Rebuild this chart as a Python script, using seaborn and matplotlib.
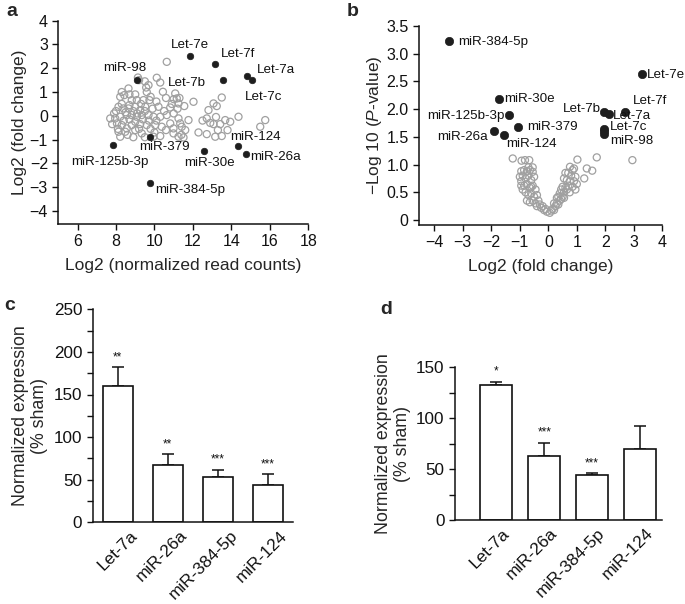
import matplotlib
matplotlib.use('Agg')
import matplotlib.pyplot as plt
import matplotlib.transforms as mtransforms
from matplotlib.ticker import MultipleLocator
import seaborn as sns
import pandas as pd

sns.set_theme(style='ticks')
plt.rcParams['font.family'] = ['Liberation Sans', 'DejaVu Sans']
plt.rcParams['mathtext.fontset'] = 'custom'
plt.rcParams['mathtext.rm'] = 'Liberation Sans'
plt.rcParams['mathtext.it'] = 'Liberation Sans:italic'

# ---------------- data ----------------
# panel a: labelled miRNAs (x = log2 normalized read counts, y = log2 fold change)
a_names = ['Let-7e', 'Let-7f', 'miR-98', 'Let-7b', 'Let-7a', 'Let-7c',
           'miR-379', 'miR-125b-3p', 'miR-30e', 'miR-124', 'miR-26a', 'miR-384-5p']
a_x = [11.85, 13.17, 9.09, 13.55, 14.82, 15.08, 9.79, 7.86, 12.60, 14.35, 14.77, 9.75]
a_y = [2.52, 2.18, 1.50, 1.50, 1.67, 1.50, -0.90, -1.22, -1.48, -1.27, -1.60, -2.84]
a_lab_x = [11.87, 13.43, 8.47, 11.71, 15.31, 14.70, 9.23, 5.66, 11.52, 13.95, 15.00, 10.06]
a_lab_y = [2.97, 2.62, 2.03, 1.40, 1.92, 0.79, -1.30, -1.96, -2.00, -0.88, -1.75, -3.12]
a_lab_ha = ['center', 'left', 'center', 'center', 'left', 'left',
            'left', 'left', 'left', 'left', 'left', 'left']

# panel a: other miRNAs (grey open circles)
a_grey_x = [10.64, 9.14, 10.12, 9.69, 9.57, 8.65, 10.44, 11.08, 8.22, 8.43,
            8.82, 9.08, 9.43, 9.74, 11.16, 11.25, 11.55, 12.03, 10.21, 10.82,
            8.13, 8.39, 8.65, 9.00, 9.26, 9.52, 13.50, 13.07, 13.24, 12.81,
            7.70, 7.96, 8.22, 8.56, 8.82, 9.08, 9.34, 9.69, 9.95, 10.30,
            10.64, 11.25, 11.77, 12.72, 13.07, 13.42, 13.68, 13.94, 14.37, 8.05,
            8.30, 8.56, 8.82, 9.26, 9.60, 10.04, 10.38, 10.82, 10.99, 11.34,
            11.42, 8.22, 8.13, 8.48, 9.00, 9.34, 9.95, 10.30, 10.99, 11.25,
            11.51, 12.29, 12.72, 13.16, 13.50, 15.50, 15.76,
            8.00, 8.30, 8.50, 8.70, 8.90, 9.10, 9.30, 9.50, 9.70, 9.90,
            10.10, 10.50, 8.40, 8.70, 9.00, 9.40, 9.80, 10.10, 10.60, 8.60,
            8.90, 9.20, 9.50, 10.00, 8.30, 9.00, 9.60, 10.90, 11.20, 11.00,
            11.60, 11.40, 13.20, 12.90, 13.80, 13.30, 12.50, 9.20, 9.50, 11.00,
            11.30, 8.70, 7.90, 10.30, 9.80, 10.60, 8.10, 7.80]
a_grey_y = [2.27, 1.61, 1.60, 1.29, 1.19, 1.15, 1.01, 0.94, 0.80, 0.87,
            0.66, 0.66, 0.66, 0.66, 0.73, 0.52, 0.41, 0.59, 0.38, 0.35,
            0.38, 0.31, 0.31, 0.38, 0.24, 0.38, 0.77, 0.52, 0.41, 0.24,
            -0.11, -0.11, -0.04, 0.03, 0.03, -0.04, 0.03, 0.03, -0.04, -0.04,
            0.03, -0.11, -0.18, -0.11, -0.35, -0.35, -0.18, -0.25, -0.04, -0.32,
            -0.39, -0.53, -0.39, -0.35, -0.39, -0.39, -0.46, -0.32, -0.53, -0.32,
            -0.46, -0.88, -0.67, -0.67, -0.60, -0.74, -0.88, -0.85, -0.74, -0.88,
            -0.91, -0.70, -0.77, -0.88, -0.85, -0.46, -0.18,
            0.20, 0.50, 0.15, 0.45, 0.20, 0.10, 0.50, 0.20, -0.20, 0.30,
            0.60, 0.20, -0.20, -0.15, -0.25, -0.15, -0.55, -0.20, -0.60, -0.80,
            -0.90, -0.55, -0.90, -0.70, 1.00, 0.90, 1.00, 0.50, 0.30, 0.10,
            -0.60, -0.80, -0.05, -0.30, -0.60, -0.60, -0.20, 1.50, 1.45, 0.70,
            0.75, 0.90, 0.10, 1.40, 0.80, 0.75, -0.55, -0.35]

# panel b: labelled miRNAs (x = log2 fold change, y = -log10 P)
b_names = ['miR-384-5p', 'Let-7e', 'miR-30e', 'miR-125b-3p', 'Let-7b', 'Let-7a',
           'Let-7f', 'miR-379', 'Let-7c', 'miR-98', 'miR-26a', 'miR-124']
b_x = [-3.49, 3.27, -1.74, -1.38, 1.96, 2.14, 2.69, -1.06, 1.96, 1.96, -1.92, -1.56]
b_y = [3.23, 2.63, 2.18, 1.89, 1.95, 1.91, 1.95, 1.67, 1.64, 1.55, 1.61, 1.53]
b_lab_x = [-3.16, 3.47, -1.54, -4.27, 0.50, 2.26, 2.98, -0.74, 2.16, 2.16, -3.92, -1.49]
b_lab_y = [3.21, 2.62, 2.19, 1.88, 2.00, 1.88, 2.15, 1.67, 1.67, 1.43, 1.50, 1.37]
b_extra_x = [1.96]
b_extra_y = [1.60]

# panel b: other miRNAs (grey open circles)
b_grey_x = [-1.25, -0.94, -0.82, -0.67, 1.02, 1.70, 2.95, 1.35, 1.54, 1.26, 0.76, 0.90,
            -0.95, -0.85, -0.75, -0.65, -0.55, -0.90, -0.80, -0.70, -0.60, -0.50,
            -0.95, -0.85, -0.75, -0.65, -0.55, -0.45, -0.90, -0.80, -0.70, -0.60,
            -0.50, -0.40, -0.75, -0.65, -0.55, -0.45, -0.35, -0.30, -0.25, -0.20,
            -0.15, -0.10, -0.05, -0.40, -0.60, -0.95, -1.00, -0.70, -0.55,
            0.05, 0.10, 0.15, 0.20, 0.25, 0.30, 0.35, 0.40, 0.45, 0.50, 0.55,
            0.30, 0.40, 0.55, 0.60, 0.65, 0.70, 0.50, 0.75, 0.65, 0.80, 0.70,
            0.85, 0.90, 0.95, 1.00, 0.60, 0.85, 0.45, 0.20, 0.35, 0.75, 0.95, 0.55]
b_grey_y = [1.11, 1.07, 1.08, 1.08, 1.09, 1.13, 1.08, 0.93, 0.89, 0.75, 0.96, 0.93,
            0.88, 0.90, 0.88, 0.90, 0.87, 0.80, 0.75, 0.80, 0.72, 0.78,
            0.70, 0.62, 0.65, 0.58, 0.62, 0.55, 0.55, 0.50, 0.45, 0.48,
            0.42, 0.45, 0.35, 0.32, 0.35, 0.30, 0.35, 0.28, 0.22, 0.25,
            0.18, 0.20, 0.15, 0.25, 0.60, 0.62, 0.78, 0.95, 0.95,
            0.13, 0.17, 0.20, 0.18, 0.25, 0.30, 0.28, 0.35, 0.38, 0.42, 0.40,
            0.40, 0.48, 0.50, 0.58, 0.55, 0.62, 0.60, 0.70, 0.72, 0.80, 0.85,
            0.60, 0.70, 0.78, 0.65, 0.85, 0.90, 0.55, 0.30, 0.42, 0.50, 0.55, 0.75]

# panels c and d: qPCR validation
bar_cats = ['Let-7a', 'miR-26a', 'miR-384-5p', 'miR-124']
c_vals = [160, 67.7, 53.2, 43.8]
c_err = [22, 12.3, 8.2, 12.5]
c_stars = ['**', '**', '***', '***']
d_vals = [132.3, 63.2, 44.2, 69.8]
d_err = [3.6, 12.8, 1.7, 22.6]
d_stars = ['*', '***', '***', '']

# ---------------- figure ----------------
W, H = 685, 604
fig = plt.figure(figsize=(W / 100, H / 100), dpi=100)


def rect(l, r, t, b):
    return [l / W, 1 - b / H, (r - l) / W, (b - t) / H]


GREY = '#a0a0a0'
DOT = '#1e1e1e'
TICK_FS = 11.5
LAB_FS = 12.5
ANN_FS = 9.6


def style_axes(ax):
    sns.despine(ax=ax)
    for s in ('left', 'bottom'):
        ax.spines[s].set_linewidth(1.1)
        ax.spines[s].set_color('#111111')
    ax.tick_params(axis='both', which='both', direction='out', length=4.5,
                   width=1.0, color='#111111', labelsize=TICK_FS, pad=3,
                   labelcolor='#111111')


# ---- panel a ----
ax = fig.add_axes(rect(58.3, 308.3, 20.7, 224))
sns.scatterplot(x=a_grey_x, y=a_grey_y, ax=ax, s=26, facecolors='none',
                edgecolor=GREY, linewidth=0.9, zorder=2)
sns.scatterplot(x=a_x, y=a_y, ax=ax, s=22, color=DOT, edgecolor=DOT,
                linewidth=0.5, zorder=3)
for n, tx, ty, ha in zip(a_names, a_lab_x, a_lab_y, a_lab_ha):
    ax.text(tx, ty, n, ha=ha, va='center', fontsize=ANN_FS, color='#111111')
ax.set_xlim(5, 18)
ax.set_ylim(-4.55, 4)
ax.set_xticks([6, 8, 10, 12, 14, 16, 18])
ax.set_yticks([4, 3, 2, 1, 0, -1, -2, -3, -4])
ax.set_yticklabels(['4', '3', '2', '1', '0', '\u22121', '\u22122', '\u22123', '\u22124'])
ax.set_xlabel('Log2 (normalized read counts)', fontsize=LAB_FS, labelpad=6)
ax.set_ylabel('Log2 (fold change)', fontsize=LAB_FS, labelpad=2)
style_axes(ax)

# ---- panel b ----
ax = fig.add_axes(rect(419, 662.3, 26, 225))
sns.scatterplot(x=b_grey_x, y=b_grey_y, ax=ax, s=26, facecolors='none',
                edgecolor=GREY, linewidth=0.9, zorder=2)
sns.scatterplot(x=b_x + b_extra_x, y=b_y + b_extra_y, ax=ax, s=36, color=DOT,
                edgecolor=DOT, linewidth=0.5, zorder=3)
for n, tx, ty in zip(b_names, b_lab_x, b_lab_y):
    ax.text(tx, ty, n, ha='left', va='center', fontsize=ANN_FS, color='#111111',
            clip_on=False)
ax.set_xlim(-4.54, 4)
ax.set_ylim(-0.09, 3.5)
ax.set_xticks([-4, -3, -2, -1, 0, 1, 2, 3, 4])
ax.set_xticklabels(['\u22124', '\u22123', '\u22122', '\u22121', '0', '1', '2', '3', '4'])
ax.set_yticks([0, 0.5, 1.0, 1.5, 2.0, 2.5, 3.0, 3.5])
ax.set_yticklabels(['0', '0.5', '1.0', '1.5', '2.0', '2.5', '3.0', '3.5'])
ax.set_xlabel('Log2 (fold change)', fontsize=LAB_FS, labelpad=6)
ax.set_ylabel('\u2212Log 10 ($P$-value)', fontsize=LAB_FS, labelpad=2)
style_axes(ax)


# ---- bar panels ----
def bar_panel(box, vals, errs, stars, ymax, xlim, width, dx):
    ax = fig.add_axes(rect(*box))
    df = pd.DataFrame({'miRNA': bar_cats, 'value': vals})
    sns.barplot(data=df, x='miRNA', y='value', ax=ax, color='white',
                edgecolor='#111111', linewidth=1.2, width=width, saturation=1,
                errorbar=None, zorder=2)
    ax.errorbar(range(len(vals)), vals, yerr=[[0] * len(vals), errs], fmt='none',
                ecolor='#111111', elinewidth=1.1, capsize=4.5, capthick=1.1,
                zorder=1)
    for i, (v, e, s) in enumerate(zip(vals, errs, stars)):
        if s:
            ax.annotate(s, (i, v + e), xytext=(0, 3), textcoords='offset points',
                        ha='center', va='bottom', fontsize=8.5, color='#111111')
    ax.set_xlim(*xlim)
    ax.set_ylim(0, ymax)
    ax.yaxis.set_major_locator(MultipleLocator(50))
    ax.yaxis.set_minor_locator(MultipleLocator(25))
    ax.set_xlabel('')
    ax.set_ylabel('Normalized expression\n(% sham)', fontsize=LAB_FS + 0.3,
                  linespacing=1.15, labelpad=4)
    style_axes(ax)
    ax.tick_params(axis='x', length=0, pad=4, labelsize=12.4)
    ax.tick_params(axis='y', labelsize=12.3)
    offset = mtransforms.ScaledTranslation(dx / 100, 0, fig.dpi_scale_trans)
    for lab in ax.get_xticklabels():
        lab.set_rotation(45)
        lab.set_ha('right')
        lab.set_va('top')
        lab.set_rotation_mode('anchor')
        lab.set_transform(lab.get_transform() + offset)
    return ax


bar_panel((92.7, 292.7, 309.3, 522.3), c_vals, c_err, c_stars, 250,
          (-0.5, 3.5), 0.6, 12)
bar_panel((455, 661.7, 367.3, 520), d_vals, d_err, d_stars, 150,
          (-0.86, 3.45), 0.67, 5)

# panel letters
for letter, px, py in [('a', 6, 12), ('b', 347, 12), ('c', 4, 306), ('d', 380, 310)]:
    fig.text(px / W, 1 - py / H, letter, fontsize=14, fontweight='bold',
             ha='left', va='center')

fig.savefig('out.png', dpi=100)
